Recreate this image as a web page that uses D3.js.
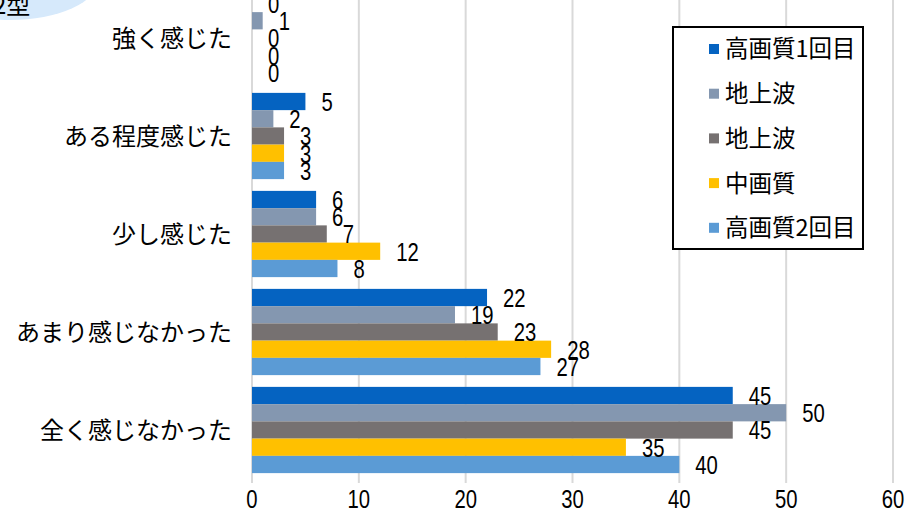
<!DOCTYPE html>
<html>
<head>
<meta charset="utf-8">
<script src="https://cdn.jsdelivr.net/npm/d3@7/dist/d3.min.js"></script>
<style>
  body { margin: 0; background: #fff; }
  svg { display: block; }
  .jp { font-family: "Noto Sans CJK JP", sans-serif; }
  .num { font-family: "Liberation Sans", sans-serif; font-size: 26px; }
</style>
</head>
<body>
<div id="chart"></div>
<script>
var width = 922;
var height = 520;

// カテゴリ（上から）
var categories = ['強く感じた', 'ある程度感じた', '少し感じた', 'あまり感じなかった', '全く感じなかった'];
// 系列名
var seriesNames = ['高画質1回目', '地上波', '地上波', '中画質', '高画質2回目'];
var seriesColors = ['#0563C1', '#8497B0', '#767171', '#FFC000', '#5B9BD5'];
// 系列ごとの値（カテゴリ順）
var hq1 = [0, 5, 6, 22, 45];
var tv1 = [1, 2, 6, 19, 50];
var tv2 = [0, 3, 7, 23, 45];
var mq = [0, 3, 12, 28, 35];
var hq2 = [0, 3, 8, 27, 40];
var xTicks = [0, 10, 20, 30, 40, 50, 60];

var seriesValues = [hq1, tv1, tv2, mq, hq2];

// 数字は縦長フォント風に横を縮める
var narrow = 0.78;

var svg = d3.select('#chart')
  .append('svg')
  .attr('width', width)
  .attr('height', height);

// 左上の吹き出し
svg.append('ellipse')
  .attr('cx', 10)
  .attr('cy', -20)
  .attr('rx', 88)
  .attr('ry', 40)
  .style('fill', '#D6E9FB');

svg.append('text')
  .attr('class', 'jp')
  .attr('x', -7)
  .attr('y', 14)
  .style('font-size', '24px')
  .text('2型');

var xScale = d3.scaleLinear()
  .domain([0, 60])
  .range([252, 893]);

var yScale = d3.scaleBand()
  .domain(categories)
  .range([-11, 479])
  .paddingInner(0.12)
  .paddingOuter(0.06);

var yInner = d3.scaleBand()
  .domain(d3.range(seriesNames.length))
  .range([0, yScale.bandwidth()]);

// グリッド線
svg.append('g')
  .selectAll('line')
  .data(xTicks)
  .enter()
  .append('line')
  .attr('x1', d => xScale(d))
  .attr('x2', d => xScale(d))
  .attr('y1', 0)
  .attr('y2', 483)
  .style('stroke', '#D9D9D9')
  .style('stroke-width', 2);

// x軸ラベル
svg.append('g')
  .selectAll('text')
  .data(xTicks)
  .enter()
  .append('text')
  .attr('class', 'num')
  .attr('transform', d => 'translate(' + xScale(d) + ',508) scale(' + narrow + ',1)')
  .attr('text-anchor', 'middle')
  .text(d => d);

// カテゴリラベル
svg.append('g')
  .selectAll('text')
  .data(categories)
  .enter()
  .append('text')
  .attr('class', 'jp')
  .attr('x', 232)
  .attr('y', d => yScale(d) + yScale.bandwidth() / 2)
  .attr('dy', '0.36em')
  .attr('text-anchor', 'end')
  .style('font-size', '24px')
  .text(d => d);

// 棒と値ラベル
var rows = [];
categories.forEach((cat, ci) => {
  seriesValues.forEach((vals, si) => {
    rows.push({ cat: cat, series: si, value: vals[ci] });
  });
});

svg.append('g')
  .selectAll('rect')
  .data(rows)
  .enter()
  .append('rect')
  .attr('x', xScale(0))
  .attr('y', d => yScale(d.cat) + yInner(d.series))
  .attr('width', d => xScale(d.value) - xScale(0))
  .attr('height', yInner.bandwidth())
  .style('fill', d => seriesColors[d.series]);

svg.append('g')
  .selectAll('text')
  .data(rows)
  .enter()
  .append('text')
  .attr('class', 'num')
  .attr('transform', d => 'translate(' + (xScale(d.value) + 16) + ',' +
    (yScale(d.cat) + yInner(d.series) + yInner.bandwidth() / 2) + ') scale(' + narrow + ',1)')
  .attr('dy', '0.36em')
  .text(d => d.value);

// 凡例
var legend = svg.append('g');

legend.append('rect')
  .attr('x', 673)
  .attr('y', 27)
  .attr('width', 190)
  .attr('height', 222)
  .style('fill', '#fff')
  .style('stroke', '#000')
  .style('stroke-width', 2);

var legendItems = legend.selectAll('g')
  .data(seriesNames)
  .enter()
  .append('g')
  .attr('transform', (d, i) => 'translate(709,' + (49 + i * 44.7) + ')');

legendItems.append('rect')
  .attr('x', 0)
  .attr('y', -5)
  .attr('width', 10)
  .attr('height', 10)
  .style('fill', (d, i) => seriesColors[i]);

legendItems.append('text')
  .attr('class', 'jp')
  .attr('x', 16)
  .attr('dy', '0.36em')
  .style('font-size', '23.5px')
  .text(d => d);
</script>
</body>
</html>
